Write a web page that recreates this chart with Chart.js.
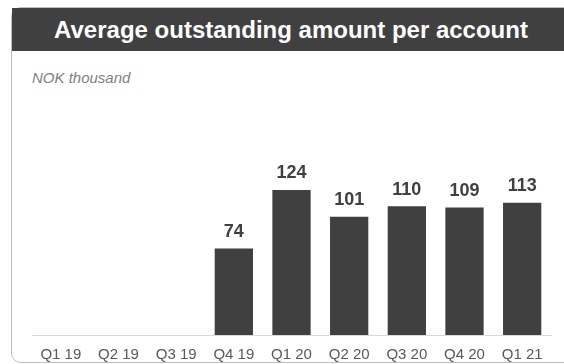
<!DOCTYPE html>
<html>
<head>
<meta charset="utf-8">
<script src="https://cdn.jsdelivr.net/npm/chart.js@4/dist/chart.umd.min.js"></script>
<style>
  html, body { margin: 0; padding: 0; background: #ffffff; overflow: hidden; }
  #wrap { position: relative; width: 564px; height: 364px; overflow: hidden; font-family: "Liberation Sans", Arial, sans-serif; }
  #frame { position: absolute; left: 11px; top: 7px; width: 570px; height: 356px; border: 1px solid #bfbfbf; border-radius: 10px; box-sizing: border-box; }
  #titlebar { position: absolute; left: 12px; top: 8px; width: 558px; height: 43px; background: #404040; color: #ffffff; font-weight: bold; font-size: 24px; line-height: 44px; text-align: center; }
  #subtitle { position: absolute; left: 32px; top: 69px; font-style: italic; font-size: 15px; color: #7f7f7f; line-height: 18px; }
  #chart { position: absolute; left: 0; top: 0; }
</style>
</head>
<body>
<div id="wrap">
  <div id="frame"></div>
  <div id="titlebar">Average outstanding amount per account</div>
  <div id="subtitle">NOK thousand</div>
  <canvas id="chart" width="564" height="364"></canvas>
</div>
<script>
const categories = ["Q1 19", "Q2 19", "Q3 19", "Q4 19", "Q1 20", "Q2 20", "Q3 20", "Q4 20", "Q1 21"];
const outstanding = [null, null, null, 74, 124, 101, 110, 109, 113];

const valueLabels = {
  id: 'valueLabels',
  afterDatasetsDraw(chart) {
    const ctx = chart.ctx;
    const meta = chart.getDatasetMeta(0);
    ctx.save();
    ctx.font = 'bold 18px "Liberation Sans", Arial, sans-serif';
    ctx.fillStyle = '#404040';
    ctx.textAlign = 'center';
    ctx.textBaseline = 'alphabetic';
    meta.data.forEach((bar, i) => {
      const v = chart.data.datasets[0].data[i];
      if (v === null || v === undefined) return;
      ctx.fillText(String(v), bar.x, bar.y - 11.5);
    });
    ctx.restore();
  }
};

new Chart(document.getElementById('chart'), {
  type: 'bar',
  data: {
    labels: categories,
    datasets: [{
      data: outstanding,
      backgroundColor: '#404040',
      borderWidth: 0,
      categoryPercentage: 1,
      barPercentage: 0.664
    }]
  },
  options: {
    responsive: false,
    animation: false,
    events: [],
    layout: { padding: { left: 32, right: 13, top: 101, bottom: 0 } },
    plugins: { legend: { display: false }, title: { display: false }, tooltip: { enabled: false } },
    scales: {
      x: {
        grid: { display: false, drawTicks: false },
        border: { display: true, color: '#d9d9d9', width: 1 },
        ticks: { color: '#595959', padding: 11, font: { family: '"Liberation Sans", Arial, sans-serif', size: 15 }, maxRotation: 0, autoSkip: false },
        afterFit(scale) { scale.height = 29; }
      },
      y: { display: false, min: 0, max: 200 }
    }
  },
  plugins: [valueLabels]
});
</script>
</body>
</html>
